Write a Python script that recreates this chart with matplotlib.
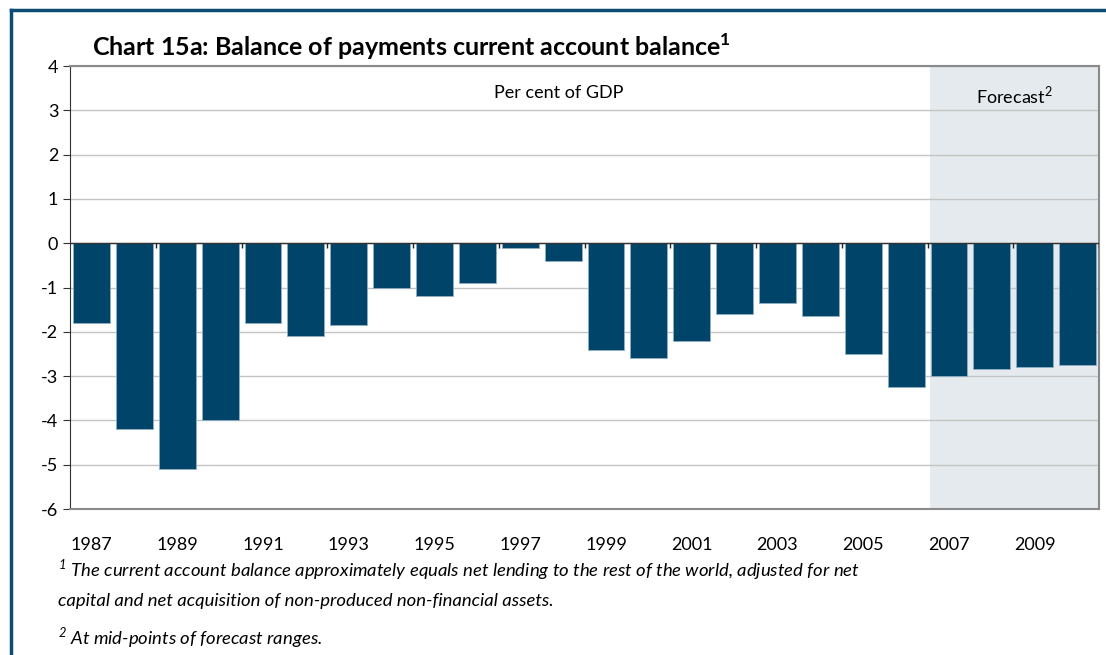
import matplotlib.pyplot as plt
import numpy as np
from matplotlib.lines import Line2D

plt.rcParams['font.family'] = ['Lato', 'DejaVu Sans']
plt.rcParams['axes.unicode_minus'] = False

# current account balance, per cent of GDP
years = list(range(1987, 2011))
balance = [-1.8, -4.2, -5.1, -4.0, -1.8, -2.1, -1.85, -1.0, -1.2, -0.9,
           -0.1, -0.4, -2.4, -2.6, -2.2, -1.6, -1.35, -1.65, -2.5, -3.25,
           -3.0, -2.85, -2.8, -2.75]
first_forecast = 2007
label_years = years[::2]

bar_color = '#00446a'
shade_color = '#e4eaee'
frame_color = '#0d4a74'

fig = plt.figure(figsize=(11.06, 6.55), dpi=100)
ax = fig.add_axes([0.0633, 0.2229, 0.9304, 0.6763])

x = np.array(years)
ax.axvspan(first_forecast - 0.45, years[-1] + 0.5, color=shade_color, zorder=0, lw=0)
ax.bar(x, balance, width=0.86, color=bar_color, edgecolor='#8fb0c4', linewidth=0.6, zorder=3)

ax.set_xlim(years[0] - 0.5, years[-1] + 0.5)
ax.set_ylim(-6, 4)
ax.set_yticks(range(-6, 5))
ax.yaxis.grid(True, color='#c4c4c4', linewidth=1.0, zorder=1)
ax.set_axisbelow(True)
ax.axhline(0, color='#333333', linewidth=1.0, zorder=4)

# small ticks on the zero line every second year
tick_pos = np.arange(years[0] + 1.5, years[-1] + 1, 2)
ax.vlines(tick_pos, -0.1, 0, color='#222222', linewidth=1.0, zorder=5)

ax.set_xticks(label_years)
ax.set_xticklabels([str(y) for y in label_years])
ax.tick_params(axis='x', length=0, pad=20, labelsize=13)
ax.tick_params(axis='y', direction='out', length=5, labelsize=13, color='#333333')

for side in ['top', 'right']:
    ax.spines[side].set_color('#8a8a8a')
    ax.spines[side].set_linewidth(1.5)
ax.spines['left'].set_color('#333333')
ax.spines['bottom'].set_color('#8a8a8a')
ax.spines['bottom'].set_linewidth(1.5)

ax.text(0.475, 0.94, 'Per cent of GDP', transform=ax.transAxes, ha='center', va='center', fontsize=13)
ax.text(0.918, 0.935, r'Forecast$^{\mathregular{2}}$', transform=ax.transAxes, ha='center', va='center', fontsize=13)

fig.text(0.083, 0.928, r'Chart 15a: Balance of payments current account balance$^{\mathregular{1}}$',
         fontsize=18, fontweight='bold', va='center')

fig.text(0.052, 0.131, r'$^{\mathregular{1}}$ The current account balance approximately equals net lending to the rest of the world, adjusted for net',
         fontsize=13.3, style='italic', va='center')
fig.text(0.052, 0.083, 'capital and net acquisition of non-produced non-financial assets.',
         fontsize=13.3, style='italic', va='center')
fig.text(0.052, 0.026, r'$^{\mathregular{2}}$ At mid-points of forecast ranges.',
         fontsize=13.3, style='italic', va='center')

# frame around the chart
fig.add_artist(Line2D([0.0095, 0.0095], [0.0, 0.985], color=frame_color, linewidth=2.5, transform=fig.transFigure))
fig.add_artist(Line2D([0.0095, 1.0], [0.985, 0.985], color=frame_color, linewidth=2.5, transform=fig.transFigure))

fig.savefig('out.png', dpi=100)
